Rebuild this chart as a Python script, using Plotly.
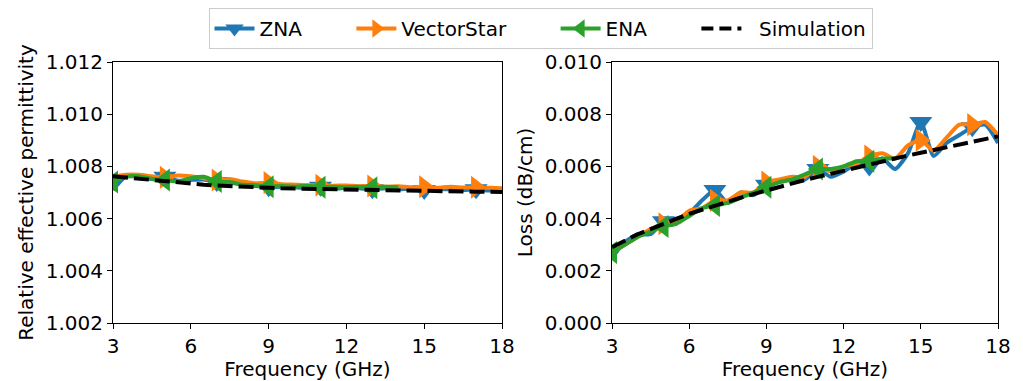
import plotly.graph_objects as go

# ---------------- data ----------------
freq = [3, 3.5, 4, 4.5, 5, 5.5, 6, 6.5, 7, 7.5, 8, 8.5, 9, 9.5, 10, 10.5,
        11, 11.5, 12, 12.5, 13, 13.5, 14, 14.5, 15, 15.5, 16, 16.5, 17, 17.5, 18]
freq_ena = freq[:23]  # ENA covers 3 - 14 GHz

# Relative effective permittivity
perm_zna = [1.00710, 1.00762, 1.00760, 1.00752, 1.00760, 1.00745, 1.00748, 1.00750,
            1.00740, 1.00738, 1.00730, 1.00725, 1.00720, 1.00722, 1.00720, 1.00718,
            1.00722, 1.00715, 1.00718, 1.00716, 1.00712, 1.00716, 1.00712, 1.00714,
            1.00710, 1.00713, 1.00712, 1.00710, 1.00712, 1.00708, 1.00710]
perm_vs = [1.00760, 1.00768, 1.00768, 1.00762, 1.00758, 1.00765, 1.00762, 1.00755,
           1.00748, 1.00752, 1.00742, 1.00735, 1.00738, 1.00732, 1.00730, 1.00728,
           1.00728, 1.00726, 1.00727, 1.00724, 1.00725, 1.00722, 1.00724, 1.00720,
           1.00722, 1.00718, 1.00722, 1.00719, 1.00720, 1.00718, 1.00716]
perm_ena = [1.00740, 1.00760, 1.00762, 1.00752, 1.00748, 1.00742, 1.00755, 1.00760,
            1.00742, 1.00740, 1.00730, 1.00728, 1.00722, 1.00725, 1.00722, 1.00726,
            1.00720, 1.00722, 1.00720, 1.00722, 1.00718, 1.00722, 1.00720]
perm_sim = [1.00762, 1.00757, 1.00752, 1.00747, 1.00742, 1.00738, 1.00734, 1.00730,
            1.00727, 1.00724, 1.00722, 1.00720, 1.00718, 1.00716, 1.00715, 1.00713,
            1.00712, 1.00711, 1.00710, 1.00709, 1.00708, 1.00707, 1.00707, 1.00706,
            1.00706, 1.00705, 1.00705, 1.00704, 1.00703, 1.00703, 1.00702]

# Loss (dB/cm)
loss_zna = [0.0025, 0.0031, 0.0034, 0.0034, 0.0039, 0.0040, 0.0042, 0.0047,
            0.0051, 0.0046, 0.0050, 0.0049, 0.0053, 0.0054, 0.0055, 0.0055,
            0.0059, 0.0056, 0.0058, 0.0061, 0.0060, 0.0063, 0.0059, 0.0065,
            0.0077, 0.0064, 0.0069, 0.0072, 0.0075, 0.0076, 0.0069]
loss_vs = [0.0027, 0.0030, 0.0033, 0.0036, 0.0038, 0.0039, 0.0043, 0.0044,
           0.0047, 0.0047, 0.0050, 0.0050, 0.0054, 0.0055, 0.0056, 0.0056,
           0.0060, 0.0058, 0.0060, 0.0061, 0.0064, 0.0065, 0.0063, 0.0068,
           0.0070, 0.0066, 0.0071, 0.0076, 0.0076, 0.0077, 0.0072]
loss_ena = [0.0027, 0.0030, 0.0033, 0.0035, 0.0037, 0.0038, 0.0041, 0.0044,
            0.0045, 0.0046, 0.0048, 0.0050, 0.0052, 0.0054, 0.0055, 0.0057,
            0.0059, 0.0059, 0.0060, 0.0062, 0.0062, 0.0063, 0.0063]
loss_sim = [0.00290, 0.00315, 0.00340, 0.00360, 0.00380, 0.00400, 0.00418, 0.00434,
            0.00450, 0.00465, 0.00480, 0.00494, 0.00508, 0.00522, 0.00535, 0.00548,
            0.00560, 0.00572, 0.00584, 0.00596, 0.00608, 0.00620, 0.00631, 0.00642,
            0.00652, 0.00662, 0.00672, 0.00682, 0.00694, 0.00704, 0.00715]

# marker positions (GHz)
zna_marks = [5, 7, 9, 11, 13, 15, 17]
vs_marks = [5, 7, 9, 11, 13, 15, 17]
ena_marks = [3, 5, 7, 9, 11, 13]

x_ticks = [3, 6, 9, 12, 15, 18]
perm_ticks = [1.002, 1.004, 1.006, 1.008, 1.010, 1.012]
loss_ticks = [0.000, 0.002, 0.004, 0.006, 0.008, 0.010]

names = ["ZNA", "VectorStar", "ENA", "Simulation"]
colors = ["#1f77b4", "#ff7f0e", "#2ca02c", "#000000"]
symbols = ["triangle-down", "triangle-right", "triangle-left", None]

FONT = "DejaVu Sans"
FS = 20
LW = 4
MS = 20
DASH = "15px,6px"

# The page is drawn with the browser's 8px body margin, so the figure is
# sized to the visible area and placed relative to it.
W, H = 1015, 373

fig = go.Figure()


def add_series(xs, ys, marks, color, symbol, xa, ya):
    fig.add_trace(go.Scatter(x=xs, y=ys, mode="lines",
                             line=dict(color=color, width=LW, shape="spline", smoothing=0.6),
                             showlegend=False, xaxis=xa, yaxis=ya, hoverinfo="skip"))
    mx = [f for f in marks if f in xs]
    my = [ys[xs.index(f)] for f in mx]
    fig.add_trace(go.Scatter(x=mx, y=my, mode="markers",
                             marker=dict(symbol=symbol, size=MS, color=color, line=dict(width=0)),
                             showlegend=False, xaxis=xa, yaxis=ya, hoverinfo="skip"))


for xa, ya, dz, dv, de, ds in [("x", "y", perm_zna, perm_vs, perm_ena, perm_sim),
                               ("x2", "y2", loss_zna, loss_vs, loss_ena, loss_sim)]:
    add_series(freq, dz, zna_marks, colors[0], symbols[0], xa, ya)
    add_series(freq, dv, vs_marks, colors[1], symbols[1], xa, ya)
    add_series(freq_ena, de, ena_marks, colors[2], symbols[2], xa, ya)
    fig.add_trace(go.Scatter(x=freq, y=ds, mode="lines",
                             line=dict(color="black", width=LW, dash=DASH),
                             showlegend=False, xaxis=xa, yaxis=ya, hoverinfo="skip"))

# legend entries
PAD = "\u00a0" * 7
for i in range(3):
    fig.add_trace(go.Scatter(x=[None], y=[None], mode="lines+markers", name=names[i] + PAD,
                             line=dict(color=colors[i], width=LW),
                             marker=dict(symbol=symbols[i], size=MS, color=colors[i])))
fig.add_trace(go.Scatter(x=[None], y=[None], mode="lines", name="\u00a0\u00a0" + names[3],
                         line=dict(color="black", width=LW, dash="12px,6px")))

axis_common = dict(showline=True, linecolor="black", linewidth=1, mirror=True,
                   ticks="outside", ticklen=5, tickwidth=1, tickcolor="black",
                   showgrid=False, zeroline=False, automargin=False,
                   tickfont=dict(family=FONT, size=FS, color="black"))

TOP, BOT = 54, 315
fig.update_layout(
    width=W, height=H,
    margin=dict(l=0, r=0, t=TOP, b=H - BOT, autoexpand=False),
    paper_bgcolor="white", plot_bgcolor="white",
    font=dict(family=FONT, size=FS, color="black"),
    xaxis=dict(domain=[105 / W, 494 / W], range=[3, 18], tickvals=x_ticks,
               title=dict(text="Frequency (GHz)", font=dict(size=FS), standoff=0), anchor="y", **axis_common),
    yaxis=dict(domain=[0, 1], range=[1.002, 1.012], tickvals=perm_ticks, tickformat=".3f",
               title=dict(text="Relative effective permittivity", font=dict(size=FS), standoff=6), anchor="x", **axis_common),
    xaxis2=dict(domain=[604 / W, 990 / W], range=[3, 18], tickvals=x_ticks,
                title=dict(text="Frequency (GHz)", font=dict(size=FS), standoff=0), anchor="y2", **axis_common),
    yaxis2=dict(domain=[0, 1], range=[0, 0.010], tickvals=loss_ticks, tickformat=".3f",
                title=dict(text="Loss (dB/cm)", font=dict(size=FS), standoff=6), anchor="x2", **axis_common),
    legend=dict(orientation="h", x=532.5 / W, xanchor="center", y=1 + (TOP - 0) / (BOT - TOP), yanchor="top",
                bordercolor="#cccccc", borderwidth=1, bgcolor="white",
                font=dict(family=FONT, size=FS, color="black"), itemwidth=40,
                tracegroupgap=0),
)

fig.write_html("out.html")
